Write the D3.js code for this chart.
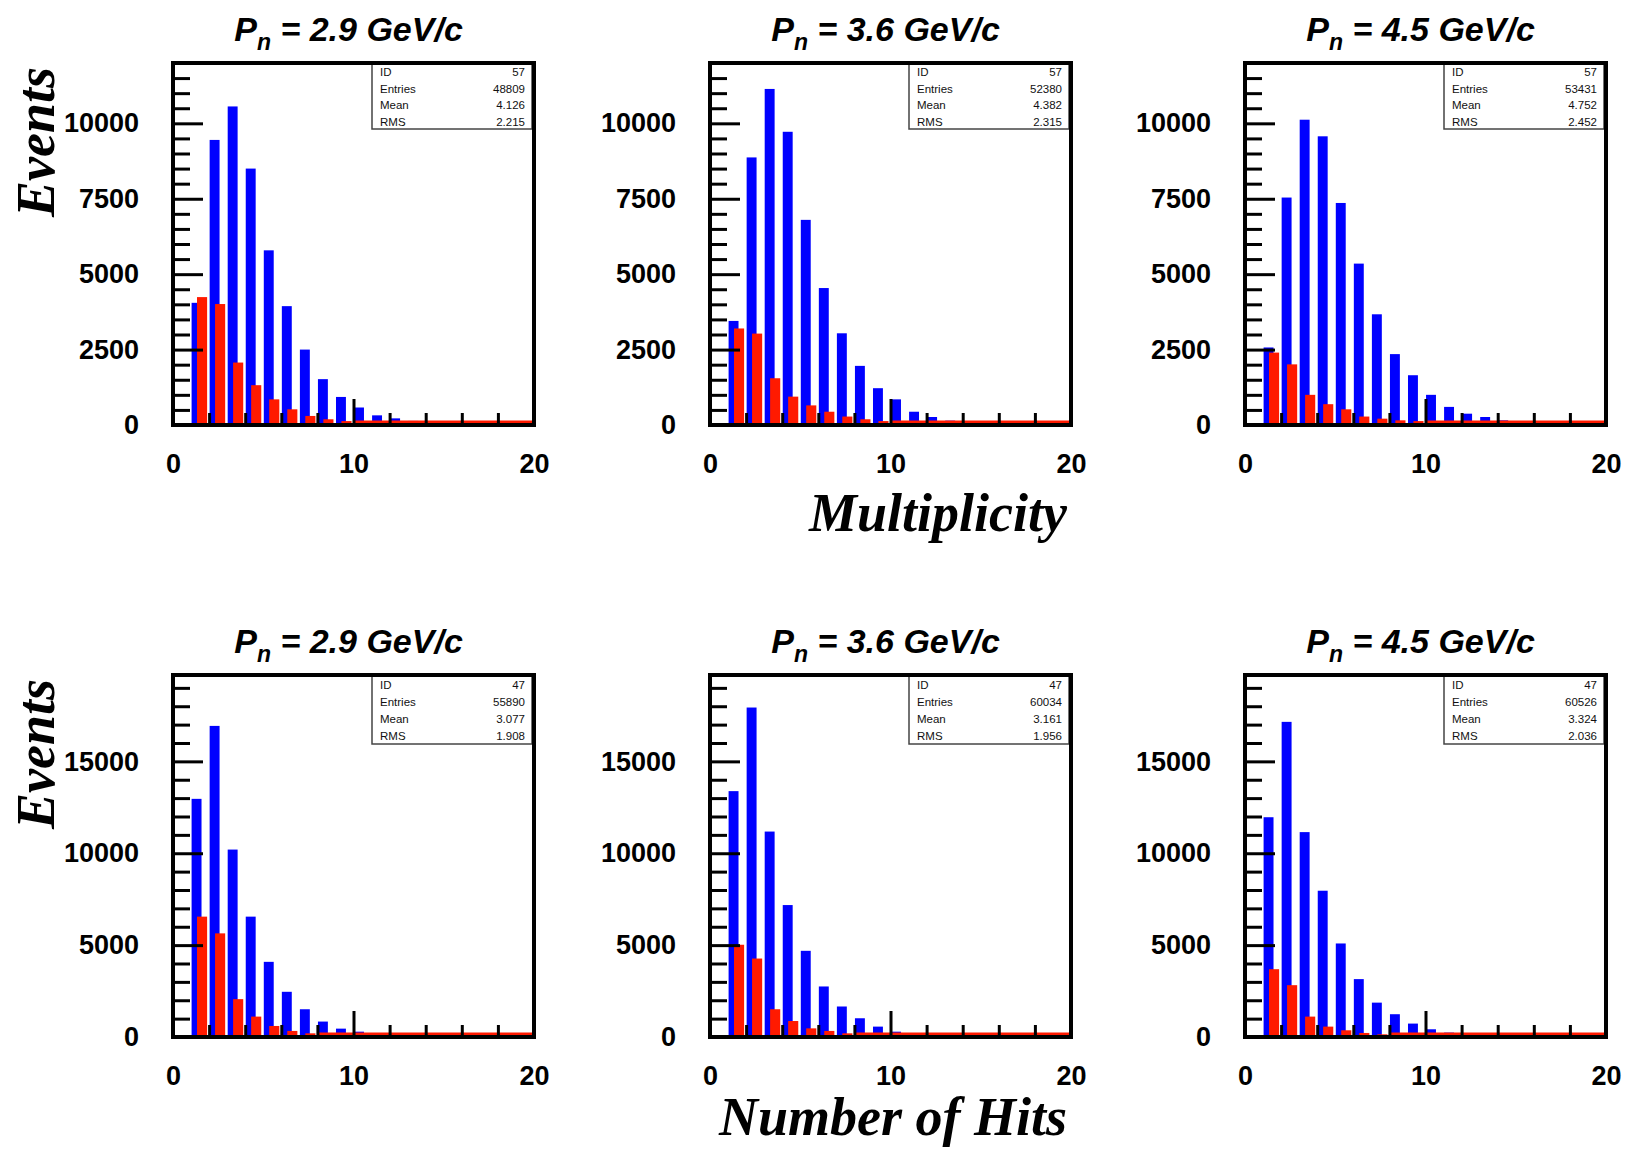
<!DOCTYPE html>
<html><head><meta charset="utf-8">
<script src="https://cdn.jsdelivr.net/npm/d3@7"></script>
<style>body{margin:0;background:#fff}svg{display:block}</style>
</head><body>
<svg id="c" width="1627" height="1154"></svg>
<script>
// ---------------- DATA ----------------
const momenta = ["2.9", "3.6", "4.5"];
const firstBin = 1;                       // bins are [1,2], [2,3], ... [19,20]
const xTickLabels = [0, 10, 20];
const xMinorTicks = [2, 4, 6, 8, 12, 14, 16, 18];
const xMajorTicks = [10];
const multYTicks = [0, 2500, 5000, 7500, 10000];
const hitsYTicks = [0, 5000, 10000, 15000];
const multYMax = 12000;
const hitsYMax = 19700;

// Multiplicity (top row), blue & red series per momentum
const multBlue29 = [4050, 9450, 10560, 8500, 5790, 3940, 2500, 1520, 930, 580, 320, 220, 135, 90, 65, 45, 30, 20, 15];
const multRed29  = [4240, 4010, 2070, 1320, 850, 520, 300, 190, 130, 100, 70, 50, 40, 30, 25, 20, 15, 10, 10];
const multBlue36 = [3450, 8870, 11140, 9720, 6800, 4540, 3040, 1960, 1220, 850, 440, 265, 145, 100, 65, 45, 30, 20, 15];
const multRed36  = [3200, 3030, 1550, 940, 650, 440, 280, 190, 130, 100, 70, 50, 40, 30, 25, 20, 15, 10, 10];
const multBlue45 = [2570, 7540, 10120, 9570, 7360, 5350, 3670, 2350, 1650, 1000, 600, 375, 265, 155, 110, 75, 50, 30, 20];
const multRed45  = [2400, 2010, 1000, 690, 520, 280, 210, 155, 130, 90, 70, 50, 40, 30, 25, 20, 15, 10, 10];

// Number of hits (bottom row)
const hitsBlue29 = [12960, 16930, 10200, 6550, 4090, 2460, 1510, 840, 455, 290, 180, 120, 80, 50, 35, 25, 15, 10, 10];
const hitsRed29  = [6550, 5640, 2060, 1110, 600, 330, 200, 145, 100, 80, 60, 45, 35, 25, 20, 15, 10, 10, 5];
const hitsBlue36 = [13380, 17930, 11180, 7180, 4690, 2750, 1660, 1020, 565, 290, 180, 110, 75, 50, 35, 25, 15, 10, 10];
const hitsRed36  = [5020, 4270, 1510, 870, 470, 330, 200, 130, 100, 80, 60, 45, 35, 25, 20, 15, 10, 10, 5];
const hitsBlue45 = [11960, 17150, 11150, 7960, 5090, 3150, 1870, 1240, 730, 420, 240, 145, 90, 60, 40, 25, 15, 10, 10];
const hitsRed45  = [3690, 2820, 1110, 565, 365, 220, 145, 110, 90, 70, 55, 45, 35, 25, 20, 15, 10, 10, 5];

// Stats boxes
const statLabels = ["ID", "Entries", "Mean", "RMS"];
const multStatID = "57";
const multEntries = ["48809", "52380", "53431"];
const multMean = ["4.126", "4.382", "4.752"];
const multRMS = ["2.215", "2.315", "2.452"];
const hitsStatID = "47";
const hitsEntries = ["55890", "60034", "60526"];
const hitsMean = ["3.077", "3.161", "3.324"];
const hitsRMS = ["1.908", "1.956", "2.036"];

const yTitle = "Events";
const multXTitle = "Multiplicity";
const hitsXTitle = "Number of Hits";

// ---------------- LAYOUT ----------------
const svg = d3.select("#c");
const colLeft = [173, 710, 1245];
const frameW = 361, frameH = 362;
const rowTop = [63, 675];
const BLUE = "#0000ff", RED = "#ff1a00";
const sansB = "'Liberation Sans', Arial, Helvetica, sans-serif";
const serif = "'Liberation Serif', 'Times New Roman', serif";

const rows = [
  { top: rowTop[0], yMax: multYMax, yTicks: multYTicks, minorStep: 500,
    blue: [multBlue29, multBlue36, multBlue45], red: [multRed29, multRed36, multRed45],
    id: multStatID, entries: multEntries, mean: multMean, rms: multRMS,
    statH: 66, redBaseFrom: 10, xTitle: multXTitle, xTitleDy: 106 },
  { top: rowTop[1], yMax: hitsYMax, yTicks: hitsYTicks, minorStep: 1000,
    blue: [hitsBlue29, hitsBlue36, hitsBlue45], red: [hitsRed29, hitsRed36, hitsRed45],
    id: hitsStatID, entries: hitsEntries, mean: hitsMean, rms: hitsRMS,
    statH: 69, redBaseFrom: 8, xTitle: hitsXTitle, xTitleDy: 98 }
];

rows.forEach((row, r) => {
  momenta.forEach((p, c) => {
    const L = colLeft[c], T = row.top;
    const x = d3.scaleLinear().domain([0, 20]).range([L, L + frameW]);
    const y = d3.scaleLinear().domain([0, row.yMax]).range([T + frameH, T]);
    const g = svg.append("g");

    const blueBins = row.blue[c].map((v, i) => ({ lo: firstBin + i, v }));
    const redBins = row.red[c].map((v, i) => ({ lo: firstBin + i, v }));

    // blue bars
    g.selectAll(".b").data(blueBins).join("rect")
      .attr("x", d => x(d.lo + 0.03)).attr("width", d => x(d.lo + 0.58) - x(d.lo + 0.03))
      .attr("y", d => y(d.v)).attr("height", d => y(0) - y(d.v))
      .attr("fill", BLUE);
    // red bars
    g.selectAll(".r").data(redBins).join("rect")
      .attr("x", d => x(d.lo + 0.33)).attr("width", d => x(d.lo + 0.89) - x(d.lo + 0.33))
      .attr("y", d => y(d.v)).attr("height", d => y(0) - y(d.v))
      .attr("fill", RED);
    // red histogram baseline
    g.append("line").attr("x1", x(row.redBaseFrom)).attr("x2", x(20))
      .attr("y1", y(0) - 3).attr("y2", y(0) - 3).attr("stroke", RED).attr("stroke-width", 3);

    // y ticks (inside, pointing right)
    const minorVals = d3.range(0, row.yMax + 1, row.minorStep).filter(v => !row.yTicks.includes(v));
    const yMinorAx = d3.axisRight(y).tickValues(minorVals).tickSize(17).tickFormat("");
    const yMajorAx = d3.axisRight(y).tickValues(row.yTicks).tickSize(30).tickFormat("");
    [yMinorAx, yMajorAx].forEach(ax => {
      const a = g.append("g").attr("transform", `translate(${L},0)`).call(ax);
      a.select(".domain").remove();
      a.selectAll("line").attr("stroke", "#000").attr("stroke-width", 3);
    });
    const yLab = g.append("g").attr("transform", `translate(${L},0)`)
      .call(d3.axisLeft(y).tickValues(row.yTicks).tickSize(0).tickPadding(34).tickFormat(d3.format("d")));
    yLab.select(".domain").remove();
    yLab.selectAll("text").attr("font-family", sansB).attr("font-weight", "bold")
      .attr("font-size", 27).attr("fill", "#000");

    // x ticks (inside, pointing up)
    const xMinorAx = d3.axisTop(x).tickValues(xMinorTicks).tickSize(12).tickFormat("");
    const xMajorAx = d3.axisTop(x).tickValues(xMajorTicks).tickSize(26).tickFormat("");
    [xMinorAx, xMajorAx].forEach(ax => {
      const a = g.append("g").attr("transform", `translate(0,${T + frameH})`).call(ax);
      a.select(".domain").remove();
      a.selectAll("line").attr("stroke", "#000").attr("stroke-width", 3);
    });
    const xLab = g.append("g").attr("transform", `translate(0,${T + frameH})`)
      .call(d3.axisBottom(x).tickValues(xTickLabels).tickSize(0).tickPadding(29));
    xLab.select(".domain").remove();
    xLab.selectAll("text").attr("font-family", sansB).attr("font-weight", "bold")
      .attr("font-size", 27).attr("fill", "#000");

    // frame
    g.append("rect").attr("x", L).attr("y", T).attr("width", frameW).attr("height", frameH)
      .attr("fill", "none").attr("stroke", "#000").attr("stroke-width", 4);

    // stats box
    const bw = 162, bx = L + frameW - bw, by = T, bh = row.statH;
    g.append("rect").attr("x", bx).attr("y", by).attr("width", bw - 2).attr("height", bh)
      .attr("fill", "#fff").attr("stroke", "#444").attr("stroke-width", 1.5);
    const vals = [row.id, row.entries[c], row.mean[c], row.rms[c]];
    statLabels.forEach((lab, i) => {
      const cy = by + bh * (i + 0.5) / 4 + 1;
      g.append("text").attr("x", bx + 8).attr("y", cy).attr("dy", "0.35em")
        .attr("font-family", sansB).attr("font-size", 11.5).attr("fill", "#111").text(lab);
      g.append("text").attr("x", bx + bw - 9).attr("y", cy).attr("dy", "0.35em")
        .attr("text-anchor", "end").attr("font-family", sansB).attr("font-size", 11.5)
        .attr("fill", "#111").text(vals[i]);
    });
    // redraw top/right frame edges over stats box
    g.append("line").attr("x1", L).attr("x2", L + frameW).attr("y1", T).attr("y2", T)
      .attr("stroke", "#000").attr("stroke-width", 4);
    g.append("line").attr("x1", L + frameW).attr("x2", L + frameW).attr("y1", T).attr("y2", T + frameH)
      .attr("stroke", "#000").attr("stroke-width", 4);

    // title
    const t = svg.append("text").attr("x", L + frameW / 2 - 5).attr("y", T - 22)
      .attr("text-anchor", "middle").attr("font-family", sansB).attr("font-weight", "bold")
      .attr("font-style", "italic").attr("font-size", 34).attr("fill", "#000");
    t.append("tspan").text("P");
    t.append("tspan").attr("dy", 9).attr("font-size", 23).text("n");
    t.append("tspan").attr("dy", -9).text(` = ${p} GeV/c`);
  });

  // y-axis title
  svg.append("text").attr("transform", `translate(54,${row.top + 4}) rotate(-90)`)
    .attr("text-anchor", "end").attr("font-family", serif).attr("font-weight", "bold")
    .attr("font-style", "italic").attr("font-size", 54).attr("fill", "#000").text(yTitle);
  // x-axis title (under middle panel, right-aligned)
  svg.append("text").attr("x", colLeft[1] + frameW - 4).attr("y", row.top + frameH + row.xTitleDy)
    .attr("text-anchor", "end").attr("font-family", serif).attr("font-weight", "bold")
    .attr("font-style", "italic").attr("font-size", 54).attr("fill", "#000").text(row.xTitle);
});
</script>
</body></html>
